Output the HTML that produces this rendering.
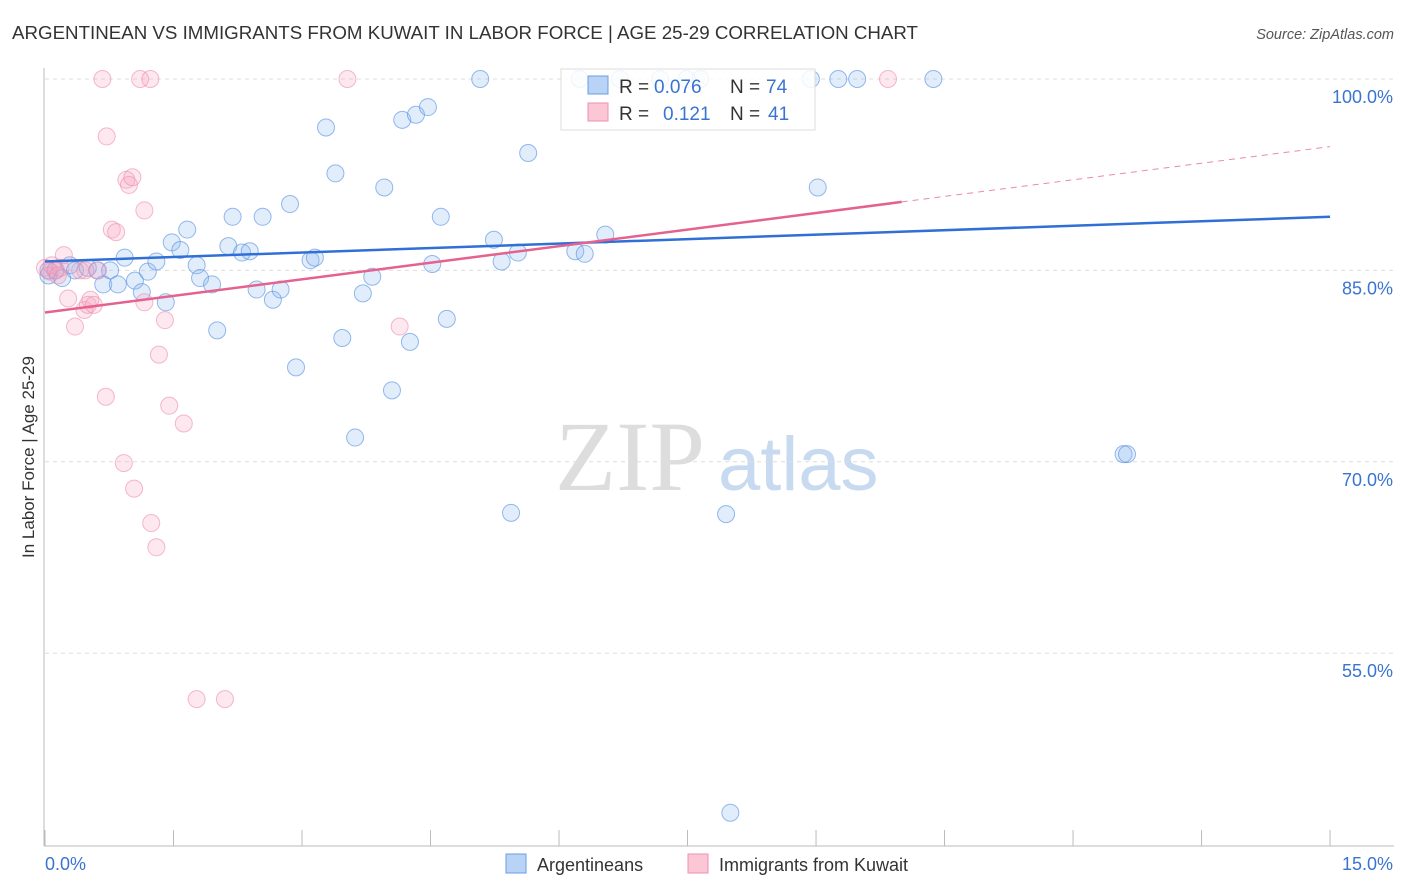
<!DOCTYPE html>
<html><head><meta charset="utf-8"><style>
body{margin:0;background:#fff;font-family:"Liberation Sans",sans-serif}
svg{display:block}
</style></head><body>
<svg id="chart" width="1406" height="892" xmlns="http://www.w3.org/2000/svg">
<text x="12" y="39" font-size="18.6" fill="#333" font-family="Liberation Sans, sans-serif" textLength="906" lengthAdjust="spacingAndGlyphs">ARGENTINEAN VS IMMIGRANTS FROM KUWAIT IN LABOR FORCE | AGE 25-29 CORRELATION CHART</text>
<text x="1394" y="39" font-size="14.5" fill="#555" text-anchor="end" font-style="italic">Source: ZipAtlas.com</text>
<text x="555" y="490" font-size="100" fill="#ddd" font-family="Liberation Serif, serif">ZIP</text>
<text x="718" y="490" font-size="76" fill="#c8daf0" font-family="Liberation Sans, sans-serif">atlas</text>
<text transform="translate(34,457) rotate(-90)" font-size="17" fill="#333" text-anchor="middle">In Labor Force | Age 25-29</text>
<g id="grid"></g><g id="axes"></g><g id="pts"></g><g id="lines"></g>
<g>
<rect x="561" y="69" width="254" height="61" fill="rgba(255,255,255,0.85)" stroke="#ddd"/>
<rect x="588" y="76" width="20" height="18" fill="#b8d3f5" stroke="#6a9ee0"/>
<rect x="588" y="103" width="20" height="18" fill="#fbc7d6" stroke="#ee90ad"/>
<text x="619" y="93" font-size="19" fill="#333">R =</text>
<text x="654" y="93" font-size="19" fill="#3a74d0">0.076</text>
<text x="730" y="93" font-size="19" fill="#333">N =</text>
<text x="766" y="93" font-size="19" fill="#3a74d0">74</text>
<text x="619" y="120" font-size="19" fill="#333">R =</text>
<text x="663" y="120" font-size="19" fill="#3a74d0">0.121</text>
<text x="730" y="120" font-size="19" fill="#333">N =</text>
<text x="768" y="120" font-size="19" fill="#3a74d0">41</text>
</g>
<g>
<rect x="506" y="854" width="20" height="19" fill="#b8d3f5" stroke="#6a9ee0"/>
<text x="537" y="871" font-size="18" fill="#333">Argentineans</text>
<rect x="688" y="854" width="20" height="19" fill="#fbc7d6" stroke="#ee90ad"/>
<text x="719" y="871" font-size="18" fill="#333">Immigrants from Kuwait</text>
</g>
</svg>
<script>
const yTicks=[100,85,70,55];
const xLabels=["0.0%","15.0%"];
const blueX=[0.04,0.12,0.20,0.29,0.35,0.50,0.61,0.76,0.68,0.85,0.93,1.05,1.13,1.20,1.30,1.41,1.48,1.58,1.66,1.77,1.81,1.95,2.01,2.14,2.19,2.30,2.39,2.47,2.54,2.66,2.75,2.86,2.93,3.10,3.15,3.28,3.39,3.47,3.62,3.71,3.82,3.96,4.05,4.17,4.26,4.33,4.47,4.52,4.62,4.69,5.08,5.24,5.33,5.44,5.52,5.64,6.19,6.24,6.30,6.54,6.71,7.18,7.65,7.49,7.95,8.00,8.94,9.02,9.26,9.48,10.37,12.59,12.63,0.04];
const blueY=[84.6,85.0,84.4,85.4,85.0,85.2,85.0,85.0,83.9,83.9,86.0,84.2,83.3,84.9,85.7,82.5,87.2,86.6,88.2,85.4,84.4,83.9,80.3,86.9,89.2,86.4,86.5,83.5,89.2,82.7,83.5,90.2,77.4,85.8,86.0,96.2,92.6,79.7,71.9,83.2,84.5,91.5,75.6,96.8,79.4,97.2,97.8,85.5,89.2,81.2,100,87.4,85.7,66.0,86.4,94.2,86.5,100,86.3,87.8,100,100,100,100,65.9,42.5,100,91.5,100,100,100,70.6,70.6,85.0];
const pinkX=[0.0,0.06,0.13,0.18,0.22,0.27,0.35,0.41,0.46,0.50,0.53,0.57,0.62,0.67,0.71,0.72,0.78,0.83,0.92,0.95,0.98,1.02,1.04,1.11,1.16,1.16,1.23,1.24,1.30,1.33,1.40,1.45,1.62,1.77,2.10,3.53,4.14,9.84,0.08,0.15,0.47];
const pinkY=[85.2,84.9,85.0,85.2,86.2,82.8,80.6,85.0,81.9,82.3,82.7,82.3,85.0,100,75.1,95.5,88.2,88.0,69.9,92.1,91.7,92.3,67.9,100,82.5,89.7,100,65.2,63.3,78.4,81.1,74.4,73.0,51.4,51.4,100,80.6,100,85.4,84.6,85.0];
const blueTrend=[85.7,89.2];
const pinkTrend=[81.7,94.7];
const pinkSolidEnd=10.0;
const X=v=>45+v*85.67, Y=v=>79+(100-v)*12.76;
const NS="http://www.w3.org/2000/svg";
function mk(t,a,p){const e=document.createElementNS(NS,t);for(const k in a)e.setAttribute(k,a[k]);document.getElementById(p).appendChild(e);return e;}
yTicks.forEach(t=>{
 const l=mk('line',{x1:45,x2:1394,y1:Y(t),y2:Y(t),stroke:'#ddd','stroke-dasharray':'4,4'},'grid');
 
 
 const s=mk('text',{x:1393,y:Y(t)+24,'font-size':18,fill:'#3a74d0','text-anchor':'end'},'grid');
 s.textContent=t.toFixed(1)+'%';
 
 
});
mk('line',{x1:44,x2:44,y1:68,y2:846,stroke:'#bbb'},'axes');
mk('line',{x1:44,x2:1394,y1:846,y2:846,stroke:'#bbb'},'axes');
for(let i=0;i<=10;i++){const t=mk('line',{x1:X(i*1.5),x2:X(i*1.5),y1:830,y2:846,stroke:'#bbb'},'axes');
 
 }
[[0,'start',xLabels[0]],[15,'end',xLabels[1]]].forEach(([v,a,s])=>{const t=mk('text',{x:v==0?45:1393,y:870,'font-size':18,fill:'#3a74d0','text-anchor':a},'axes');t.textContent=s;
 
 });
blueX.forEach((x,i)=>{const c=mk('circle',{cx:X(x),cy:Y(blueY[i]),r:8.5,fill:'rgba(140,185,240,0.25)',stroke:'rgba(80,140,225,0.6)','stroke-width':1},'pts');
 
 });
pinkX.forEach((x,i)=>{const c=mk('circle',{cx:X(x),cy:Y(pinkY[i]),r:8.5,fill:'rgba(248,165,190,0.25)',stroke:'rgba(238,140,172,0.6)','stroke-width':1},'pts');
 
 });
const bl=mk('line',{x1:X(0),y1:Y(blueTrend[0]),x2:X(15),y2:Y(blueTrend[1]),stroke:'#2f6fd6','stroke-width':2.5},'lines');


const pm=v=>pinkTrend[0]+(pinkTrend[1]-pinkTrend[0])*v/15;
const pl=mk('line',{x1:X(0),y1:Y(pinkTrend[0]),x2:X(pinkSolidEnd),y2:Y(pm(pinkSolidEnd)),stroke:'#e5628f','stroke-width':2.5},'lines');


const pd=mk('line',{x1:X(pinkSolidEnd),y1:Y(pm(pinkSolidEnd)),x2:X(15),y2:Y(pinkTrend[1]),stroke:'#e98aab','stroke-width':1,'stroke-dasharray':'6,5'},'lines');


</script>
</body></html>
